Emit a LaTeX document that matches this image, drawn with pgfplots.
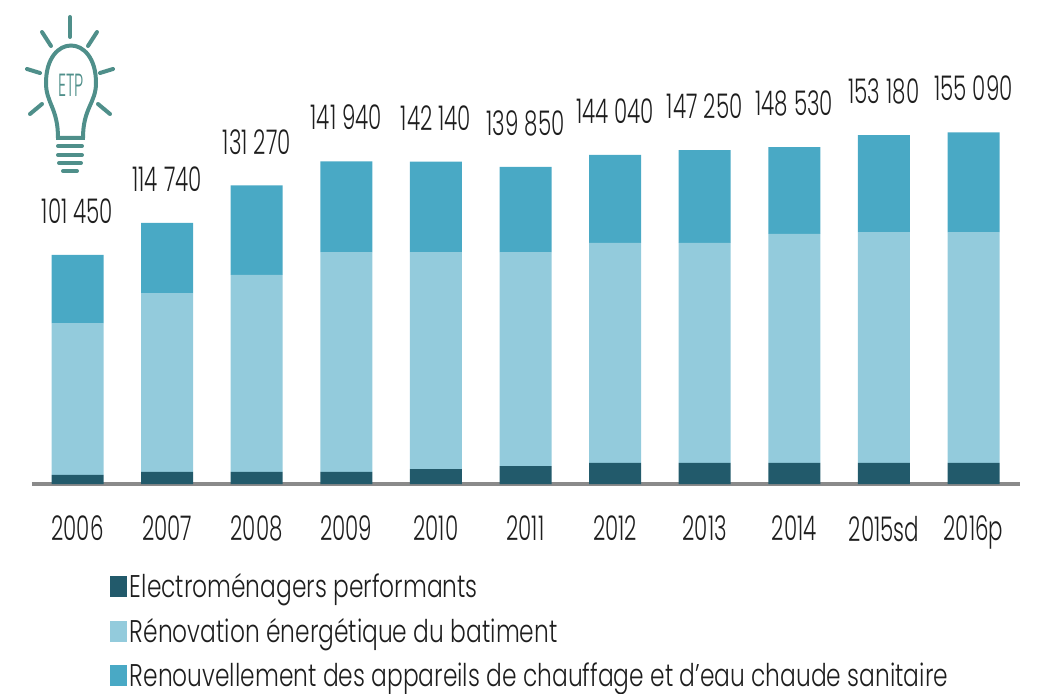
\documentclass[border=0pt]{standalone}
\usepackage{fontspec}
\setmainfont{Poppins Light}[FakeStretch=0.745]
\newfontfamily\numfont{Poppins Light}[FakeStretch=0.63]
\usepackage{pgfplots}
\pgfplotsset{compat=1.18}
\definecolor{cdark}{HTML}{225A6B}
\definecolor{clight}{HTML}{93CBDC}
\definecolor{cmid}{HTML}{49A9C5}
\definecolor{caxis}{HTML}{8A8A8A}
\definecolor{ctext}{HTML}{1E1E1E}
\definecolor{cbulb}{HTML}{4F8F8A}
\begin{document}
\begin{tikzpicture}[x=0.75pt,y=0.75pt]
\useasboundingbox (0,0) rectangle (1043,693);
\begin{axis}[
  at={(24pt,156.75pt)},anchor=south west,
  scale only axis,
  width=741pt,height=360pt,
  xmin=-0.508,xmax=10.519,ymin=0,ymax=211680,
  axis x line=bottom,axis y line=none,
  x axis line style={draw=caxis,line width=2.6pt,-},
  ybar stacked,bar width=39pt,
  xtick={0,...,10},
  xticklabels={2006,2007,2008,2009,2010,2011,2012,2013,2014,2015sd,2016p},
  major tick length=0pt,
  xticklabel style={font=\numfont\fontsize{25.5}{26}\selectfont,text=ctext,yshift=-20.5pt},
  clip=false,
  legend cell align=left,
  legend style={at={(58.5pt,-65pt)},anchor=north west,draw=none,fill=none,
    font=\fontsize{23.5}{24}\selectfont,text=ctext,
    row sep=9.9pt,inner sep=0pt,
    /tikz/every even column/.append style={column sep=0pt}},
  legend image code/.code={\fill[#1] (0pt,-7.9pt) rectangle (12.75pt,7.9pt);},
]
\addplot+[draw=none,fill=cdark] coordinates {(0,4000)(1,5300)(2,5300)(3,5300)(4,6600)(5,7900)(6,9300)(7,9300)(8,9300)(9,9300)(10,9300)};
\addplot+[draw=none,fill=clight] coordinates {(0,67000)(1,78900)(2,86900)(3,97000)(4,95700)(5,94400)(6,97000)(7,97000)(8,101000)(9,101800)(10,101800)};
\addplot+[draw=none,fill=cmid] coordinates {
  (0,30050)(1,31000)(2,39500)(3,40000)(4,39840)(5,37550)(6,38800)(7,40950)(8,38230)(9,42800)(10,43990)};
\addplot+[forget plot,draw=none,fill=none,
  nodes near coords={\pgfmathprintnumber[fixed,precision=0,1000 sep={\kern4.5pt},assume math mode=true]{\pgfplotspointmeta}},
  point meta=explicit,
  every node near coord/.append style={font=\numfont\fontsize{25.5}{26}\selectfont,text=ctext,anchor=base,yshift=23.5pt},
  ] coordinates {
  (0,1)[101450](1,1)[114740](2,1)[131270](3,1)[141940](4,1)[142140](5,1)[139850](6,1)[144040](7,1)[147250](8,1)[148530](9,1)[153180](10,1)[155090]};
\legend{Electroménagers performants,Rénovation énergétique du batiment,Renouvellement des appareils de chauffage et d'eau chaude sanitaire}
\end{axis}
% ETP bulb logo
\begin{scope}[cbulb,line cap=round,line width=3pt]
 \draw (70,676)--(70,656); \draw (42,661)--(51,647); \draw (97,661)--(88,647);
 \draw (27,624)--(40,620); \draw (113,624)--(100,620);
 \draw (30,579)--(42,589); \draw (110,579)--(98,589);
 \draw (58,555) .. controls (58,585) and (46,590) .. (46,610) .. controls (46,660) and (96,660) .. (96,610) .. controls (96,590) and (83,585) .. (83,555) -- cycle;
 \draw (58,547)--(82,547); \draw (58,538)--(82,538); \draw (59,530)--(81,530); \draw (63,522)--(77,522);
\end{scope}
\node[cbulb,font=\numfont\fontsize{24}{24}\selectfont,inner sep=0pt,xscale=.8] at (71,608) {ETP};
\end{tikzpicture}
\end{document}
